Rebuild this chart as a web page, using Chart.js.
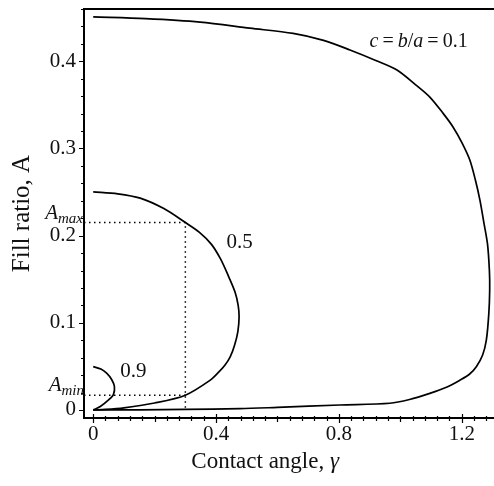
<!DOCTYPE html>
<html>
<head>
<meta charset="utf-8">
<script src="https://cdn.jsdelivr.net/npm/chart.js@4"></script>
<style>
  html, body { margin: 0; padding: 0; background: #fff; }
</style>
</head>
<body>
<canvas id="myChart" width="494" height="486"></canvas>
<script>
// contact angle (gamma) vs fill ratio (A), one closed branch per c = b/a
var gamma01 = [0, 0.17, 0.348, 0.51, 0.651, 0.75, 0.836, 0.92, 0.989, 1.05, 1.096, 1.14, 1.171, 1.2, 1.226, 1.245, 1.259, 1.272, 1.284, 1.29, 1.291, 1.288, 1.28, 1.268, 1.248, 1.225, 1.193, 1.15, 1.096, 1.03, 0.966, 0.803, 0.6, 0.478, 0.3, 0.15, 0];
var fill01 = [0.451, 0.449, 0.445, 0.438, 0.432, 0.424, 0.413, 0.401, 0.39, 0.373, 0.359, 0.34, 0.325, 0.307, 0.287, 0.263, 0.241, 0.215, 0.19, 0.16, 0.138, 0.11, 0.08, 0.063, 0.05, 0.041, 0.034, 0.026, 0.019, 0.012, 0.0077, 0.0057, 0.003, 0.0015, 0.0007, 0.0002, 0];

var gamma05 = [0, 0.08, 0.153, 0.23, 0.3, 0.345, 0.385, 0.415, 0.441, 0.462, 0.472, 0.475, 0.471, 0.46, 0.446, 0.428, 0.41, 0.38, 0.3, 0.2, 0.1, 0.04, 0];
var fill05 = [0.2503, 0.248, 0.243, 0.231, 0.215, 0.204, 0.19, 0.173, 0.153, 0.135, 0.12, 0.107, 0.09, 0.074, 0.061, 0.051, 0.044, 0.034, 0.017, 0.008, 0.0025, 0.0006, 0];

var gamma09 = [0, 0.025, 0.0445, 0.06, 0.069, 0.066, 0.05, 0.023, 0];
var fill09 = [0.0497, 0.047, 0.042, 0.035, 0.027, 0.018, 0.0115, 0.004, 0];

var gammaMark = 0.3;
var aMax = 0.215;
var aMin = 0.017;

var xTicks = [0, 0.4, 0.8, 1.2];
var yTicks = [0, 0.1, 0.2, 0.3, 0.4];
var xMin = -0.03, xMax = 1.305;
var yMin = -0.0092, yMax = 0.46;

var serif = "'Liberation Serif', 'Times New Roman', serif";
var ink = "#111";

function pts(xs, ys) {
  return xs.map(function (x, i) { return { x: x, y: ys[i] }; });
}

function curve(xs, ys) {
  return {
    data: pts(xs, ys),
    showLine: true,
    borderColor: "#000",
    borderWidth: 1.7,
    pointRadius: 0,
    tension: 0.3,
  };
}

function dotted(xs, ys) {
  return {
    data: pts(xs, ys),
    showLine: true,
    borderColor: "#000",
    borderWidth: 1.5,
    borderDash: [1.5, 3.5],
    pointRadius: 0,
    tension: 0,
  };
}

// text made of runs: [text, italic, size, dy]
function drawRuns(ctx, runs, x, y, align) {
  var total = 0;
  runs.forEach(function (r) {
    ctx.font = (r[1] ? "italic " : "") + r[2] + "px " + serif;
    total += ctx.measureText(r[0]).width;
  });
  var cx = align === "right" ? x - total : align === "center" ? x - total / 2 : x;
  runs.forEach(function (r) {
    ctx.font = (r[1] ? "italic " : "") + r[2] + "px " + serif;
    ctx.fillText(r[0], cx, y + (r[3] || 0));
    cx += ctx.measureText(r[0]).width;
  });
}

var annotate = {
  id: "annotate",
  afterDraw: function (chart) {
    var ctx = chart.ctx;
    var xs = chart.scales.x, ys = chart.scales.y;
    var area = chart.chartArea;
    ctx.save();
    ctx.fillStyle = ink;
    ctx.strokeStyle = "#000";
    ctx.textBaseline = "alphabetic";

    // tick marks, minor every 0.04 on x and 0.02 on y
    ctx.lineWidth = 1.2;
    ctx.beginPath();
    for (var i = 0; i <= 32; i++) {
      var v = i * 0.04;
      var px = Math.round(xs.getPixelForValue(v)) + 0.5;
      var major = i % 10 === 0, mid = i % 5 === 0;
      ctx.moveTo(px, area.bottom - (major ? 4 : 2));
      ctx.lineTo(px, area.bottom + (major ? 5 : mid ? 4 : 3));
    }
    for (var j = 0; j <= 23; j++) {
      var w = j * 0.02;
      var py = Math.round(ys.getPixelForValue(w)) + 0.5;
      var big = j % 5 === 0;
      ctx.moveTo(area.left - (big ? 5 : 3), py);
      ctx.lineTo(area.left + 1, py);
    }
    ctx.stroke();

    // curve labels
    drawRuns(ctx, [["c", true, 20], ["\u2009=\u2009", false, 20], ["b", true, 20], ["/", false, 20],
      ["a", true, 20], ["\u2009=\u20090.1", false, 20]], xs.getPixelForValue(0.9), ys.getPixelForValue(0.416), "left");
    drawRuns(ctx, [["0.5", false, 21]], xs.getPixelForValue(0.434), ys.getPixelForValue(0.186), "left");
    drawRuns(ctx, [["0.9", false, 21]], xs.getPixelForValue(0.088), ys.getPixelForValue(0.038), "left");

    // A_max and A_min at the left of the dotted guides
    drawRuns(ctx, [["A", true, 21, -4], ["max", true, 15, 0]], area.left - 1, ys.getPixelForValue(aMax), "right");
    drawRuns(ctx, [["A", true, 21, -4], ["min", true, 15, 0]], area.left, ys.getPixelForValue(aMin), "right");

    // x axis title
    ctx.textBaseline = "middle";
    drawRuns(ctx, [["Contact angle, ", false, 23], ["\u03b3", true, 23]], xs.getPixelForValue(0.56), area.bottom + 44, "center");
    ctx.restore();
  },
};

new Chart("myChart", {
  type: "scatter",
  data: {
    datasets: [
      curve(gamma01, fill01),
      curve(gamma05, fill05),
      curve(gamma09, fill09),
      dotted([xMin, gammaMark, gammaMark], [aMax, aMax, 0]),
      dotted([xMin, gammaMark], [aMin, aMin]),
    ],
  },
  options: {
    responsive: false,
    animation: false,
    layout: { padding: 0 },
    plugins: { legend: { display: false }, tooltip: { enabled: false } },
    scales: {
      x: {
        type: "linear",
        position: "bottom",
        min: xMin,
        max: xMax,
        afterBuildTicks: function (scale) {
          scale.ticks = xTicks.map(function (v) { return { value: v }; });
        },
        afterFit: function (scale) {
          scale.height = 68;
          scale.paddingLeft = 0;
          scale.paddingRight = 0;
        },
        grid: { display: false, drawTicks: false },
        border: { color: "#000", width: 2 },
        ticks: {
          font: { family: serif, size: 21 },
          color: ink,
          padding: 4,
          maxRotation: 0,
          autoSkip: false,
          callback: function (v) { return String(v); },
        },
      },
      x2: {
        type: "linear",
        position: "top",
        afterFit: function (scale) { scale.height = 9; },
        grid: { display: false, drawTicks: false },
        border: { color: "#000", width: 2 },
        ticks: { display: false },
      },
      y: {
        type: "linear",
        position: "left",
        min: yMin,
        max: yMax,
        afterBuildTicks: function (scale) {
          scale.ticks = yTicks.map(function (v) { return { value: v }; });
        },
        afterFit: function (scale) {
          scale.width = 84;
          scale.paddingTop = 0;
          scale.paddingBottom = 0;
        },
        grid: { display: false, drawTicks: false },
        border: { color: "#000", width: 2 },
        ticks: {
          font: { family: serif, size: 21 },
          color: ink,
          padding: 8,
          autoSkip: false,
          callback: function (v) { return String(v); },
        },
        title: {
          display: true,
          text: "Fill ratio, A",
          font: { family: serif, size: 25 },
          color: ink,
          padding: { top: 7, bottom: 0 },
        },
      },
    },
  },
  plugins: [annotate],
});
</script>
</body>
</html>
